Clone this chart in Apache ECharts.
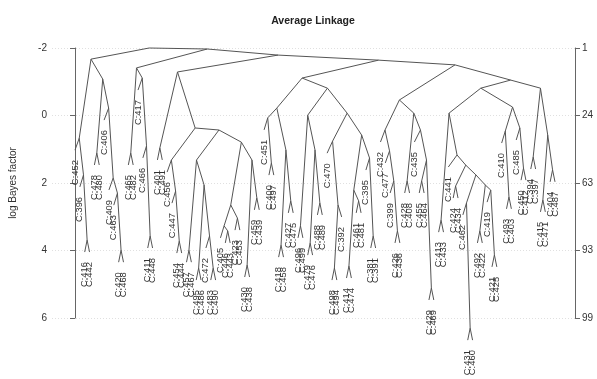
<!DOCTYPE html>
<html>
<head>
<meta charset="utf-8">
<script src="https://cdn.jsdelivr.net/npm/echarts@6/dist/echarts.min.js"></script>
<style>
html, body { margin: 0; padding: 0; background: #fff; }
#chart { width: 597px; height: 379px; }
</style>
</head>
<body>
<div id="chart"></div>
<script>
// Merge table of the average-linkage tree: each node joins a left and a right
// child (another node id or a leaf label) at a log Bayes factor height.
const nodeIds = [
  'root','L1','A','B','P416','Fa','P478','F','D','E','P420',
  'R1','K','P465','H','I','P411',
  'M','Q','T','V',
  'N','Nl','Nr','Nr1','Nr3','P454','Nr2','Nr5','P457','Nr8','P485','Nr9','P483','Nr6','Nr10','Nr12','P446','P423','Nr11','P430','P459',
  'S','SL','SL1','P499','SL2','P418','P427','SR','SRL','P496','SRL2','P479','P488','SRR','A1','A1b','P498','A2','A2a','P414','P461','A2b','P381',
  'U','UL','UL2','UL3','P426','UR','P428','UR2','UR3','P455','P429',
  'W','WL','P413','WL2','WL3','P424','WL4','WL5','P431','WL6','P492','WL7','P421',
  'WR','WR1','P493','WR2','P450',
  'X','P394','X2','P415','P404'
];
const nodeLeft = [
  'L1','A','C:452','C:396','C:416','P478','C:478','C:406','C:409','C:463','C:420',
  'K','P465','C:465','C:417','C:466','C:411',
  'N','S','U','W',
  'Nl','C:401','Nr1','C:456','C:447','C:454','Nr5','P457','C:457','P485','C:495','C:472','C:483','Nr10','Nr12','C:405','C:446','C:423','P430','C:430','C:459',
  'SL','SL1','C:451','C:400','P418','C:418','C:427','SRL','P496','C:496','P479','C:479','C:488','A1','C:470','P498','C:498','A2a','P414','C:414','C:461','C:395','C:381',
  'UL','C:432','C:477','C:399','C:426','P428','C:428','C:435','P455','C:455','C:429',
  'WL','P413','C:413','C:441','P424','C:424','WL5','C:462','C:431','P492','C:492','C:419','C:421',
  'WR1','C:410','C:493','C:485','C:450',
  'P394','C:394','P415','C:415','C:404'
];
const nodeRight = [
  'R1','Fa','B','P416','C:442','F','C:480','D','E','P420','C:468',
  'M','H','C:482','I','P411','C:448',
  'Q','T','V','X',
  'Nr','C:491','Nr2','Nr3','P454','C:444','Nr6','Nr8','C:467','Nr9','C:486','P483','C:490','Nr11','P423','P446','C:443','C:453','P459','C:438','C:439',
  'SR','SL2','P499','C:497','P427','C:458','C:475','SRR','SRL2','C:499','P488','C:476','C:489','A2','A1b','C:392','C:494','A2b','P461','C:474','C:481','P381','C:391',
  'UR','UL2','UL3','P426','C:436','UR2','C:408','UR3','P429','C:464','C:469',
  'WR','WL2','C:433','WL3','WL4','C:434','WL6','P431','C:460','WL7','C:422','P421','C:425',
  'WR2','P493','C:403','P450','C:412',
  'X2','C:397','P404','C:471','C:487'
];
const nodeHeight = [
  -2.00,-1.67,0.67,1.76,3.69,-1.08,1.11,-0.22,1.85,2.30,3.99,
  -1.97,-1.41,1.11,-1.11,0.90,3.57,
  -1.79,-1.64,-1.50,-1.05,
  -1.29,0.96,0.37,1.32,2.24,3.72,0.43,1.32,3.99,2.06,4.52,3.57,4.52,0.79,2.65,3.27,3.42,3.04,1.32,4.43,2.44,
  -1.11,-0.22,0.07,1.41,1.02,3.84,2.53,-0.81,-0.01,3.27,1.02,3.78,2.59,-0.07,0.76,2.65,4.52,0.58,2.21,4.46,2.53,1.26,3.57,
  -0.46,0.43,1.05,1.94,3.42,-0.07,1.94,0.43,1.32,1.94,5.11,
  -0.81,-0.07,3.10,1.17,1.47,2.09,1.76,2.59,6.30,2.06,3.42,2.21,4.13,
  -0.25,0.46,2.41,0.37,1.56,
  -0.81,1.23,0.58,2.50,1.61
];

// Axis ticks: left side in log Bayes factor, right side the number of clusters at that cut
const yTicks = [-2, 0, 2, 4, 6];
const clusterCounts = ['1', '24', '63', '93', '99'];

const HANG = 0.356;      // how far a leaf hangs below its parent merge
const LABEL_GAP = 10;    // px between a leaf end and its label

const nodeIndex = {};
nodeIds.forEach((id, i) => { nodeIndex[id] = i; });

const leaves = [];
const edges = [];
function place(ref, parentHeight) {
  const i = nodeIndex[ref];
  if (i === undefined) {
    const leaf = { name: ref, x: leaves.length, y: parentHeight + HANG };
    leaves.push(leaf);
    return leaf;
  }
  const h = nodeHeight[i];
  const l = place(nodeLeft[i], h);
  const r = place(nodeRight[i], h);
  const x = (l.x + r.x) / 2;
  edges.push([x, h, l.x, l.y], [x, h, r.x, r.y]);
  return { x: x, y: h };
}
place('root', 0);

const n = leaves.length;
const gridLeft = 52, gridRight = 22;
const plotW = 597 - gridLeft - gridRight;
// leaves occupy the pixel band 75..555 inside the plot
const span = (n - 1) * plotW / 480;
const xMin = -23 * span / plotW;
const xMax = xMin + span;

const font = '"Liberation Sans", Arial, sans-serif';
const chart = echarts.init(document.getElementById('chart'));
chart.setOption({
  animation: false,
  backgroundColor: '#fff',
  title: {
    text: 'Average Linkage',
    left: 308, top: 11, textAlign: 'center',
    textStyle: { fontFamily: font, fontSize: 10.5, fontWeight: 'bold', color: '#222' }
  },
  grid: { left: gridLeft, right: gridRight, top: 48, bottom: 61 },
  xAxis: { type: 'value', min: xMin, max: xMax, show: false },
  yAxis: [
    {
      type: 'value', inverse: true, min: yTicks[0], max: yTicks[yTicks.length - 1], interval: 2,
      name: 'log Bayes factor', nameLocation: 'middle', nameRotate: 90, nameGap: 34,
      nameTextStyle: { fontFamily: font, fontSize: 10, color: '#333' },
      axisLine: { show: true, lineStyle: { color: '#666', width: 1 } },
      axisTick: { show: true, length: 5, lineStyle: { color: '#666' } },
      axisLabel: { fontFamily: font, fontSize: 10, color: '#333', margin: 5 },
      splitLine: { show: true, lineStyle: { color: '#e0e0e0', type: [1, 2], width: 1 } }
    },
    {
      type: 'value', inverse: true, min: yTicks[0], max: yTicks[yTicks.length - 1], interval: 2,
      position: 'right',
      axisLine: { show: true, lineStyle: { color: '#666', width: 1 } },
      axisTick: { show: true, length: 5, lineStyle: { color: '#666' } },
      axisLabel: {
        fontFamily: font, fontSize: 10, color: '#333', margin: 7,
        formatter: v => clusterCounts[yTicks.indexOf(v)]
      },
      splitLine: { show: false }
    }
  ],
  series: [
    {
      type: 'custom',
      clip: false,
      data: edges,
      renderItem: (params, api) => {
        const a = api.coord([api.value(0), api.value(1)]);
        const b = api.coord([api.value(2), api.value(3)]);
        return {
          type: 'line',
          shape: { x1: a[0], y1: a[1], x2: b[0], y2: b[1] },
          style: { stroke: '#555', lineWidth: 1 }
        };
      }
    },
    {
      type: 'custom',
      clip: false,
      data: leaves.map(l => [l.x, l.y]),
      renderItem: (params, api) => {
        const p = api.coord([api.value(0), api.value(1)]);
        return {
          type: 'text',
          x: p[0], y: p[1] + LABEL_GAP,
          rotation: Math.PI / 2,
          style: {
            text: leaves[params.dataIndex].name,
            align: 'right', verticalAlign: 'middle',
            fontFamily: font, fontSize: 9.4, fill: '#333'
          }
        };
      }
    }
  ]
});
</script>
</body>
</html>
